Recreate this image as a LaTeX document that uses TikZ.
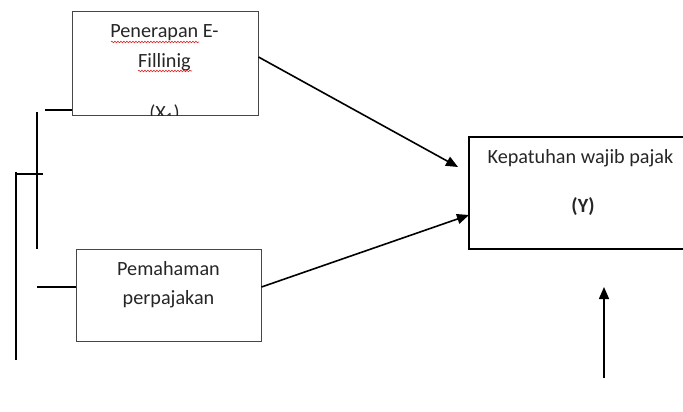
\documentclass[tikz,border=0pt]{standalone}
\usepackage{fontspec}
\setmainfont{Carlito}
\usetikzlibrary{arrows.meta,decorations.pathmorphing}
\definecolor{inkgray}{RGB}{38, 38, 38}
\definecolor{framegray}{RGB}{70, 70, 70}
\definecolor{spellred}{RGB}{220, 40, 40}

\tikzset{
    varbox/.style={draw=framegray, line width=1pt, minimum width=#1, inner sep=0pt},
    txt/.style={anchor=base, inner sep=0pt, text=inkgray, font=\fontsize{20.2}{24}\selectfont},
    link/.style={black, line width=1.6pt},
    flow/.style={link, -{Triangle[length=12pt,width=10pt]}},
    squig/.style={spellred, line width=0.6pt, decorate, decoration={snake, amplitude=0.8pt, segment length=3pt}}
}

\begin{document}
\begin{tikzpicture}[x=1pt, y=-1pt]
            \useasboundingbox (0,0) rectangle (683,412);
            % variabel bebas dan terikat
            \node[varbox=186pt, minimum height=103pt]                     (xone)  at (165.0,  63.5) {};
            \node[varbox=185pt, minimum height=92pt]                      (xtwo)  at (168.5, 295.0) {};
            \node[varbox=216pt, minimum height=112pt, line width=1.6pt, draw=black] (yvar) at (577.0, 193.0) {};
            % teks di dalam kotak
            \node[txt] (xoneA) at (164.5,  38) {Penerapan E-};
            \node[txt] (xoneB) at (164.5,  67) {Fillinig};
            \begin{scope}
                \clip (xone.north west) rectangle (xone.south east);
                \node[txt] (xoneC) at (164.5, 119) {(X\textsubscript{1})};
            \end{scope}
            \draw[squig] (111, 42) -- (199, 42);
            \draw[squig] (138, 71) -- (192, 71);
            \node[txt] (xtwoA) at (168.5, 275) {Pemahaman};
            \node[txt] (xtwoB) at (168.5, 304) {perpajakan};
            \node[txt] (yA)    at (580.5, 163) {Kepatuhan wajib pajak};
            \node[txt, font=\fontsize{20.2}{24}\selectfont\bfseries] (yB) at (583, 212) {(Y)};
            % titik ujung garis
            \coordinate (xoneL)  at ( 45, 110);
            \coordinate (xtwoL)  at ( 37, 287);
            \coordinate (vinTop) at ( 37, 112);
            \coordinate (vinBot) at ( 37, 249);
            \coordinate (voutTop) at ( 16, 172);
            \coordinate (voutBot) at ( 16, 360);
            \coordinate (tickEnd) at ( 43, 174);
            \coordinate (yTipA)  at (458, 167);
            \coordinate (yTipB)  at (469, 215);
            \coordinate (upBot)  at (604, 378);
            \coordinate (upTop)  at (604, 287);
            % garis
            \draw[link] (xoneL) -- (xoneL -| xone.west);
            \draw[link] (xtwoL) -- (xtwoL -| xtwo.west);
            \draw[link] (vinTop) -- (vinBot);
            \draw[link] (voutTop) -- (voutBot);
            \draw[link] (voutTop |- tickEnd) -- (tickEnd);
            \draw[flow] (xone.east |- 0,57) -- (yTipA);
            \draw[flow] (xtwo.east |- 0,287) -- (yTipB);
            \draw[flow] (upBot) -- (upTop);
\end{tikzpicture}
\end{document}
